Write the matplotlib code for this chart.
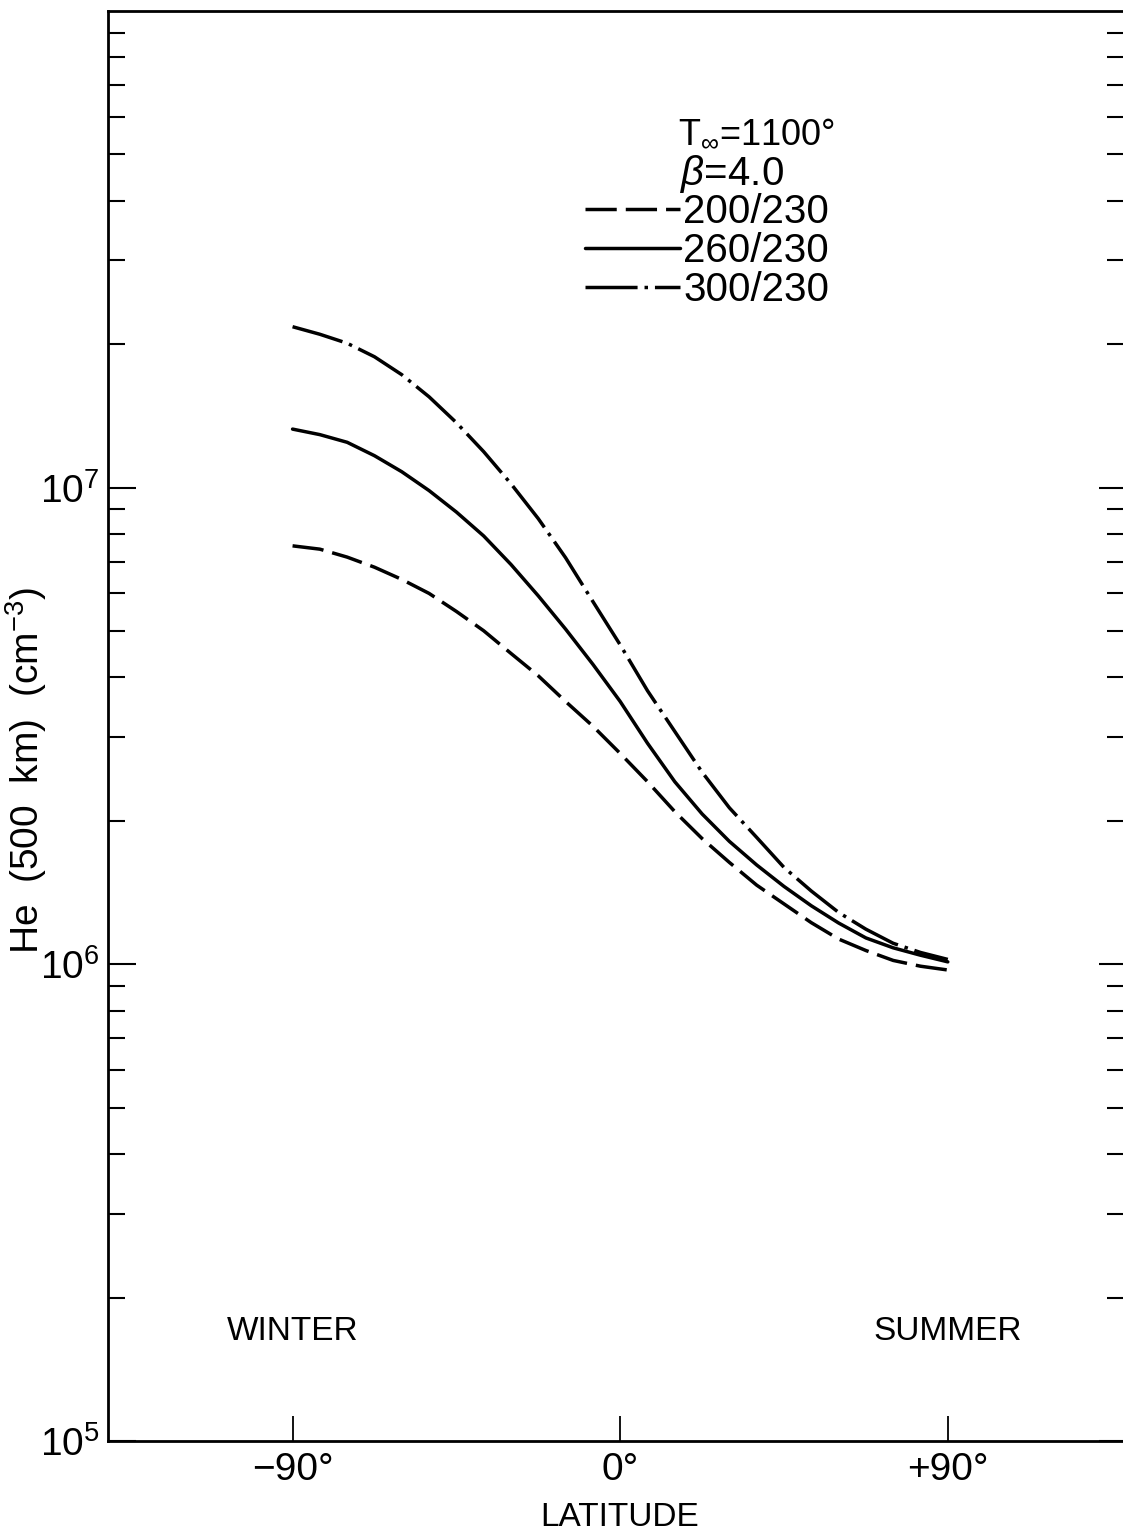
import matplotlib
matplotlib.use("Agg")
import matplotlib.pyplot as plt
from matplotlib.ticker import FixedLocator, LogLocator, NullFormatter, LogFormatterMathtext

plt.rcParams['font.family'] = ['Liberation Sans', 'DejaVu Sans']
plt.rcParams['mathtext.fontset'] = 'custom'
plt.rcParams['mathtext.rm'] = 'Liberation Sans'
plt.rcParams['mathtext.it'] = 'Liberation Sans:italic'
plt.rcParams['mathtext.bf'] = 'Liberation Sans:bold'

# Helium number density at 500 km versus latitude (T_inf = 1100 deg, beta = 4.0)
latitude = [-90, -82.5, -75, -67.5, -60, -52.5, -45, -37.5, -30, -22.5, -15, -7.5,
            0, 7.5, 15, 22.5, 30, 37.5, 45, 52.5, 60, 67.5, 75, 82.5, 90]
he_200_230 = [7.55e6, 7.43e6, 7.15e6, 6.81e6, 6.42e6, 6.00e6, 5.50e6, 5.01e6,
              4.49e6, 4.03e6, 3.56e6, 3.16e6, 2.77e6, 2.417e6, 2.091e6, 1.836e6,
              1.636e6, 1.466e6, 1.339e6, 1.223e6, 1.130e6, 1.069e6, 1.019e6,
              0.991e6, 0.973e6]
he_260_230 = [1.327e7, 1.292e7, 1.245e7, 1.167e7, 1.080e7, 9.86e6, 8.89e6, 7.92e6,
              6.90e6, 5.93e6, 5.05e6, 4.26e6, 3.56e6, 2.91e6, 2.416e6, 2.068e6,
              1.811e6, 1.616e6, 1.457e6, 1.327e6, 1.221e6, 1.136e6, 1.083e6,
              1.045e6, 1.012e6]
he_300_230 = [2.176e7, 2.098e7, 2.009e7, 1.882e7, 1.726e7, 1.551e7, 1.369e7, 1.190e7,
              1.019e7, 8.61e6, 7.13e6, 5.77e6, 4.68e6, 3.75e6, 3.08e6, 2.53e6,
              2.13e6, 1.846e6, 1.597e6, 1.425e6, 1.285e6, 1.185e6, 1.107e6,
              1.059e6, 1.024e6]

series_labels = ["200/230", "260/230", "300/230"]
lat_ticks = [-90, 0, 90]
lat_tick_labels = ["\u221290\u00b0", "0\u00b0", "+90\u00b0"]
decade_ticks = [1e5, 1e6, 1e7]

W, H = 1123, 1537
fig = plt.figure(figsize=(W / 100, H / 100), dpi=100)
ax = fig.add_axes([108 / W, 96 / H, (1132 - 108) / W, (1441 - 11) / H])

lw = 2.5
styles = [
    dict(linestyle=(0, (9, 2.6))),
    dict(linestyle='-'),
    dict(linestyle=(0, (15, 2.0, 1.0, 2.0))),
]
handles = []
for vals, st in zip([he_200_230, he_260_230, he_300_230], styles):
    ln, = ax.plot(latitude, vals, color='black', lw=lw, dash_capstyle='butt',
                  solid_capstyle='round', **st)
    handles.append(ln)

ax.set_yscale('log')
ax.set_ylim(1e5, 1e8)
ax.set_xlim(-140.7, 140.6)

for s in ax.spines.values():
    s.set_linewidth(2.0)

# x ticks
ax.set_xticks(lat_ticks)
ax.set_xticklabels(lat_tick_labels)
ax.tick_params(axis='x', direction='in', length=18, width=1.3, pad=8,
               labelsize=28, top=False)

# left y ticks
ax.yaxis.set_major_locator(FixedLocator(decade_ticks))
ax.yaxis.set_major_formatter(LogFormatterMathtext())
ax.yaxis.set_minor_locator(LogLocator(base=10, subs=range(2, 10), numticks=20))
ax.yaxis.set_minor_formatter(NullFormatter())
ax.tick_params(axis='y', which='major', direction='in', length=20, width=1.5,
               pad=6, labelsize=28, right=False)
ax.tick_params(axis='y', which='minor', direction='in', length=12, width=1.5,
               right=False)

# right-hand ticks (longer than the left ones)
axr = ax.twinx()
axr.set_yscale('log')
axr.set_ylim(ax.get_ylim())
axr.yaxis.set_major_locator(FixedLocator(decade_ticks))
axr.yaxis.set_minor_locator(LogLocator(base=10, subs=range(2, 10), numticks=20))
axr.yaxis.set_major_formatter(NullFormatter())
axr.yaxis.set_minor_formatter(NullFormatter())
axr.tick_params(axis='y', which='major', direction='in', length=24, width=1.5)
axr.tick_params(axis='y', which='minor', direction='in', length=18, width=1.5)
for s in axr.spines.values():
    s.set_visible(False)

ax.set_ylabel("He  (500  km)  (cm$^{-3}$)", fontsize=28)
ax.yaxis.set_label_coords(-0.058, 0.4685)
ax.set_xlabel("LATITUDE", fontsize=24)
ax.xaxis.set_label_coords(0.5, -0.043)

# season labels
ax.text(-90, 1.70e5, "WINTER", fontsize=24, ha='center', va='center')
ax.text(90, 1.70e5, "SUMMER", fontsize=24, ha='center', va='center')

# legend block
ax.text(0.557, 0.914, "T$_{\\infty}$=1100\u00b0", transform=ax.transAxes,
        fontsize=26, ha='left', va='center')
ax.text(0.559, 0.886, "$\\beta$=4.0", transform=ax.transAxes,
        fontsize=29, ha='left', va='center')
ax.legend(handles, series_labels, loc='upper left', bbox_to_anchor=(0.466, 0.8724),
          frameon=False, fontsize=29, handlelength=2.36, handletextpad=0.07,
          labelspacing=0.02, borderpad=0, borderaxespad=0)

fig.savefig("out.png", dpi=100)
